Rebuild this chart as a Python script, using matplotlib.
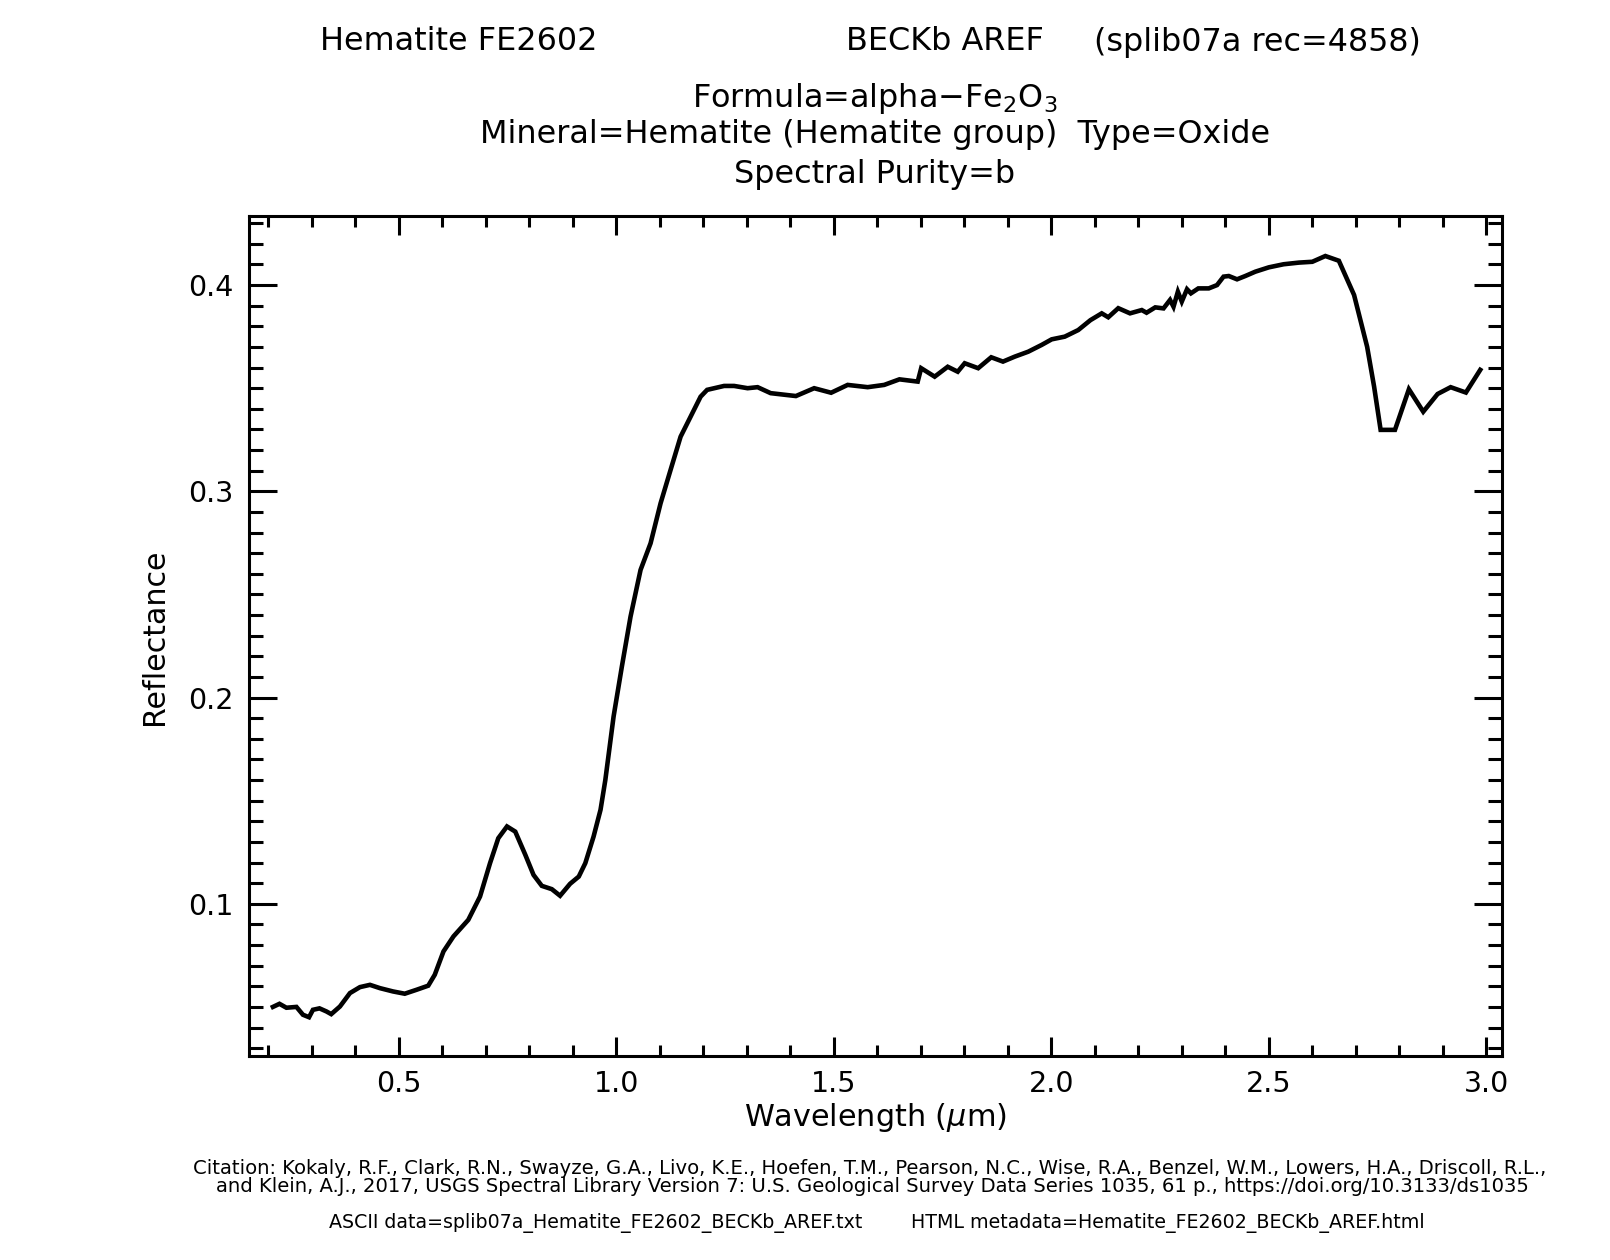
import matplotlib
matplotlib.use("Agg")
import matplotlib.pyplot as plt
from matplotlib.ticker import MultipleLocator, FormatStrFormatter

plt.rcParams['font.family'] = ['DejaVu Sans']
plt.rcParams['mathtext.fontset'] = 'dejavusans'

# ---------------- data ----------------
wavelength = [0.211, 0.226, 0.242, 0.265, 0.280, 0.294, 0.303, 0.318, 0.334, 0.345,
              0.365, 0.388, 0.411, 0.434, 0.457, 0.487, 0.514, 0.541, 0.568, 0.583,
              0.603, 0.626, 0.660, 0.687, 0.710, 0.729, 0.749, 0.768, 0.791, 0.810,
              0.829, 0.852, 0.871, 0.894, 0.914, 0.929, 0.948, 0.964, 0.975, 0.994,
              1.013, 1.033, 1.056, 1.079, 1.102, 1.125, 1.148, 1.171, 1.194, 1.209,
              1.248, 1.271, 1.302, 1.325, 1.355, 1.413, 1.455, 1.494, 1.532, 1.578,
              1.616, 1.651, 1.693, 1.701, 1.732, 1.762, 1.785, 1.801, 1.832, 1.862,
              1.889, 1.916, 1.947, 1.978, 2.001, 2.031, 2.062, 2.090, 2.116, 2.131,
              2.154, 2.181, 2.208, 2.219, 2.239, 2.258, 2.273, 2.281, 2.291, 2.300,
              2.312, 2.321, 2.338, 2.362, 2.381, 2.396, 2.408, 2.427, 2.446, 2.469,
              2.500, 2.534, 2.569, 2.600, 2.630, 2.661, 2.696, 2.726, 2.742, 2.757,
              2.790, 2.822, 2.855, 2.888, 2.918, 2.953, 2.986]
reflectance = [0.0500, 0.0515, 0.0496, 0.0500, 0.0462, 0.0450, 0.0486, 0.0493, 0.0478, 0.0465,
               0.0502, 0.0567, 0.0596, 0.0607, 0.0591, 0.0575, 0.0564, 0.0583, 0.0603, 0.0656,
               0.0769, 0.0842, 0.0922, 0.1035, 0.1197, 0.1318, 0.1375, 0.1350, 0.1238, 0.1140,
               0.1087, 0.1071, 0.1039, 0.1097, 0.1132, 0.1197, 0.1326, 0.1456, 0.1600, 0.1908,
               0.2150, 0.2393, 0.2619, 0.2748, 0.2942, 0.3104, 0.3265, 0.3362, 0.3459, 0.3492,
               0.3511, 0.3511, 0.3500, 0.3505, 0.3476, 0.3462, 0.3500, 0.3478, 0.3516, 0.3505,
               0.3516, 0.3543, 0.3532, 0.3597, 0.3556, 0.3604, 0.3580, 0.3621, 0.3597, 0.3650,
               0.3629, 0.3653, 0.3677, 0.3710, 0.3737, 0.3750, 0.3782, 0.3830, 0.3863, 0.3844,
               0.3888, 0.3863, 0.3879, 0.3866, 0.3892, 0.3887, 0.3928, 0.3895, 0.3968, 0.3920,
               0.3980, 0.3960, 0.3984, 0.3984, 0.4000, 0.4041, 0.4044, 0.4028, 0.4044, 0.4065,
               0.4086, 0.4101, 0.4109, 0.4113, 0.4141, 0.4118, 0.3952, 0.3701, 0.3508, 0.3298,
               0.3298, 0.3495, 0.3386, 0.3472, 0.3505, 0.3479, 0.3589]

x_ticks = [0.5, 1.0, 1.5, 2.0, 2.5, 3.0]
y_ticks = [0.1, 0.2, 0.3, 0.4]

title_left = "Hematite FE2602"
title_mid = "BECKb AREF"
title_right = "(splib07a rec=4858)"
formula_line = r"Formula=alpha$-$Fe$_2$O$_3$"
mineral_line = "Mineral=Hematite (Hematite group)  Type=Oxide"
purity_line = "Spectral Purity=b"
citation1 = ("Citation: Kokaly, R.F., Clark, R.N., Swayze, G.A., Livo, K.E., Hoefen, T.M., "
             "Pearson, N.C., Wise, R.A., Benzel, W.M., Lowers, H.A., Driscoll, R.L.,")
citation2 = ("and Klein, A.J., 2017, USGS Spectral Library Version 7: U.S. Geological Survey "
             "Data Series 1035, 61 p., https://doi.org/10.3133/ds1035")
ascii_line = "ASCII data=splib07a_Hematite_FE2602_BECKb_AREF.txt"
html_line = "HTML metadata=Hematite_FE2602_BECKb_AREF.html"
x_label = r"Wavelength ($\mu$m)"
y_label = "Reflectance"

# ---------------- figure ----------------
W, H = 1610, 1260
fig = plt.figure(figsize=(W / 100, H / 100), dpi=100)
fig.patch.set_facecolor('white')
ax = fig.add_axes([249 / W, 1 - 1056 / H, (1502 - 249) / W, (1056 - 216) / H])

ax.plot(wavelength, reflectance, color='black', lw=3.3, solid_joinstyle='miter')

ax.set_xlim(0.156, 3.036)
ax.set_ylim(0.0262, 0.4335)
ax.set_xticks(x_ticks)
ax.set_yticks(y_ticks)
ax.xaxis.set_minor_locator(MultipleLocator(0.1))
ax.yaxis.set_minor_locator(MultipleLocator(0.01))
ax.xaxis.set_major_formatter(FormatStrFormatter('%.1f'))
ax.yaxis.set_major_formatter(FormatStrFormatter('%.1f'))

for s in ax.spines.values():
    s.set_linewidth(2.2)
ax.tick_params(axis='both', which='both', direction='in', top=True, right=True,
               width=2.2, colors='black', labelsize=20.5)
ax.tick_params(axis='x', which='major', length=13.5, pad=10)
ax.tick_params(axis='x', which='minor', length=8)
ax.tick_params(axis='y', which='major', length=20, pad=11)
ax.tick_params(axis='y', which='minor', length=10)

# ---------------- text ----------------
def fx(px):
    return px / W

def fy(py):
    return 1 - py / H

t1 = fig.text(fx(320), fy(42), title_left, ha='left', va='center', fontsize=19)
t2 = fig.text(fx(846), fy(42), title_mid, ha='left', va='center', fontsize=19)
t3 = fig.text(fx(1094), fy(42), title_right, ha='left', va='center', fontsize=19)
t4 = fig.text(fx(875), fy(98), formula_line, ha='center', va='center', fontsize=19)
t5 = fig.text(fx(875), fy(135), mineral_line, ha='center', va='center', fontsize=19)
t6 = fig.text(fx(875), fy(174), purity_line, ha='center', va='center', fontsize=19)

xl = fig.text(fx(875), fy(1117), x_label, ha='center', va='center', fontsize=19)
yl = fig.text(fx(154), fy(637), y_label, ha='center', va='center', fontsize=19,
              rotation=90)

c1 = fig.text(fx(870), fy(1168), citation1, ha='center', va='center', fontsize=12)
c2 = fig.text(fx(872), fy(1186), citation2, ha='center', va='center', fontsize=12)
a1 = fig.text(fx(329), fy(1223), ascii_line, ha='left', va='center', fontsize=12)
a2 = fig.text(fx(911), fy(1223), html_line, ha='left', va='center', fontsize=12)

renderer = fig.canvas.get_renderer()

def fit(texts, ref, target, vertical=False):
    bb = ref.get_window_extent(renderer)
    w = bb.height if vertical else bb.width
    fs = ref.get_fontsize() * target / w
    for t in texts:
        t.set_fontsize(fs)

fit([t1, t2, t3, t4, t5, t6], t5, 792)
fit([c1, c2], c1, 1356)
fit([a1, a2], a1, 531)
fit([xl], xl, 263)
fit([yl], yl, 177, vertical=True)

fig.savefig("out.png", dpi=100, facecolor='white')
